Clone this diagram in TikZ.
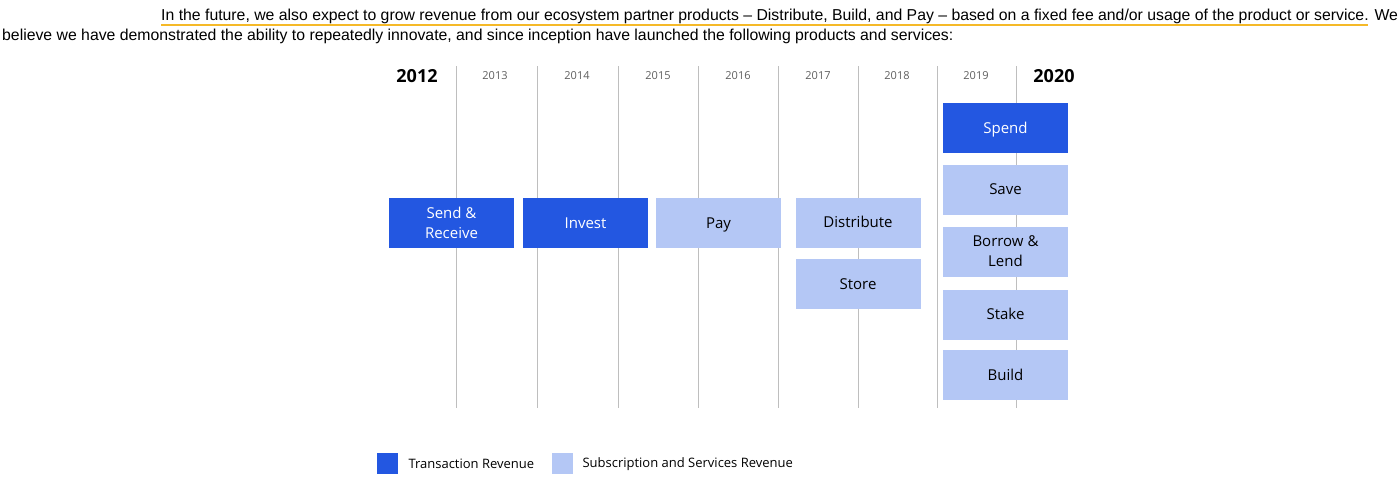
\documentclass[tikz,border=0pt]{standalone}
\usepackage{fontspec}
\setmainfont{Liberation Sans}
\newfontfamily\chartfont{Open Sans}
\definecolor{txnblue}{RGB}{35,87,225}
\definecolor{subblue}{RGB}{180,199,245}
\definecolor{gridgray}{RGB}{190,190,190}
\definecolor{yeargray}{RGB}{95,95,95}
\definecolor{markyellow}{RGB}{245,185,40}
\begin{document}
\begin{tikzpicture}[
  x=1pt, y=-1pt,
  txn/.style={
    fill=txnblue, rectangle, minimum width=125pt, minimum height=50pt,
    align=center, inner sep=0pt, text=white,
    font=\chartfont\fontsize{15}{20}\selectfont
  },
  sub/.style={
    fill=subblue, rectangle, minimum width=125pt, minimum height=50pt,
    align=center, inner sep=0pt, text=black,
    font=\chartfont\fontsize{15}{20}\selectfont
  },
  oneline/.style={text height=10pt, text depth=0pt},
  yr/.style={font=\chartfont\fontsize{11}{13}\selectfont, text=yeargray},
  bigyr/.style={font=\chartfont\bfseries\fontsize{18}{20}\selectfont},
  key/.style={rectangle, minimum size=21pt, inner sep=0pt},
  keytxt/.style={anchor=west, font=\chartfont\fontsize{13}{15}\selectfont},
  para/.style={anchor=base west, inner sep=0pt, font=\fontsize{15.8}{18}\selectfont},
  grid/.style={gridgray, line width=0.8pt}
]
\useasboundingbox (0,0) rectangle (1400,490);

%% ── Intro text ───────────────────────────────────────────────
\node[para] (l1) at (161,20) {In the future, we also expect to grow revenue from our ecosystem partner products -- Distribute, Build, and Pay -- based on a fixed fee and/or usage of the product or service. We};
\node[para] (l2) at (2,40) {believe we have demonstrated the ability to repeatedly innovate, and since inception have launched the following products and services:};
\draw[markyellow, line width=1.6pt] (161,25) -- (1368,25);

%% ── Year grid ────────────────────────────────────────────────
\foreach \gx in {456,537,618,698,778,858,937,1016}
  \draw[grid] (\gx,66) -- (\gx,408);

\node[bigyr] (y2012) at (417,76) {2012};
\node[yr] (y2013) at (495,76) {2013};
\node[yr] (y2014) at (577,76) {2014};
\node[yr] (y2015) at (658,76) {2015};
\node[yr] (y2016) at (738,76) {2016};
\node[yr] (y2017) at (818,76) {2017};
\node[yr] (y2018) at (897,76) {2018};
\node[yr] (y2019) at (976,76) {2019};
\node[bigyr] (y2020) at (1054,76) {2020};

%% ── Products ─────────────────────────────────────────────────
\node[txn] (snd) at (451.5,223) {Send \&\\Receive};
\node[txn, oneline] (inv) at (585.5,223) {Invest};
\node[sub, oneline] (pay) at (718.5,223) {Pay};
\node[sub, oneline] (dst) at (858,222.5) {Distribute};
\node[sub, oneline] (sto) at (858,284) {Store};

\node[txn, oneline] (spd) at (1005.5,128) {Spend};
\node[sub, oneline] (sav) at (1005.5,189.5) {Save};
\node[sub] (bor) at (1005.5,251.5) {Borrow \&\\Lend};
\node[sub, oneline] (stk) at (1005.5,314.5) {Stake};
\node[sub, oneline] (bld) at (1005.5,375) {Build};

%% ── Legend ───────────────────────────────────────────────────
\node[key, fill=txnblue] (ktx) at (387.5,463.5) {};
\node[keytxt] (ltx) at (405,464) {Transaction Revenue};
\node[key, fill=subblue] (ksb) at (562.5,463.5) {};
\node[keytxt] (lsb) at (579,464) {Subscription and Services Revenue};

\end{tikzpicture}
\end{document}
